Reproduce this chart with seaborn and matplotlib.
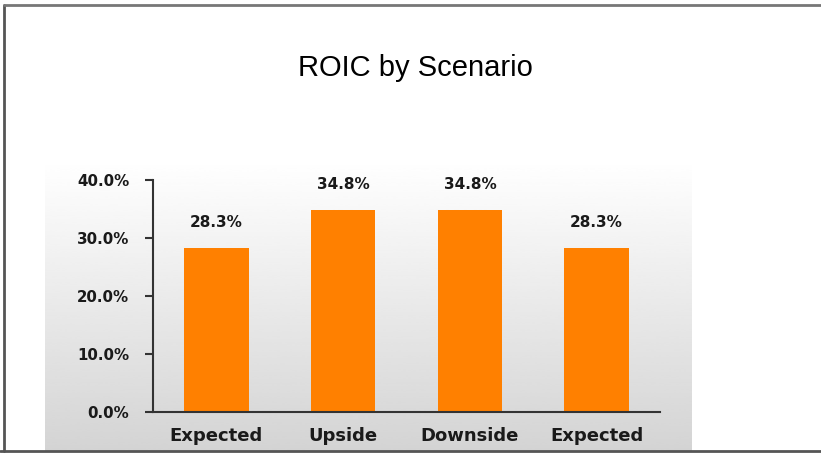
import numpy as np
import pandas as pd
import matplotlib
matplotlib.use("Agg")
import matplotlib.pyplot as plt
import seaborn as sns
from matplotlib.lines import Line2D

categories = ["Expected", "Upside", "Downside", "Expected"]
roic = [0.283, 0.348, 0.348, 0.283]
value_labels = ["28.3%", "34.8%", "34.8%", "28.3%"]
y_ticks = [0.0, 0.1, 0.2, 0.3, 0.4]
y_tick_labels = ["0.0%", "10.0%", "20.0%", "30.0%", "40.0%"]
title = "ROIC by Scenario"

sns.set_theme(style="white")
plt.rcParams["font.family"] = ["Liberation Sans", "DejaVu Sans"]

W, H = 821, 454
fig = plt.figure(figsize=(W / 100, H / 100), dpi=100)
fig.patch.set_facecolor("white")

# gradient background panel
bg = fig.add_axes([0, 0, 1, 1], zorder=0)
bg.set_xlim(0, W)
bg.set_ylim(H, 0)
bg.axis("off")
grad = np.linspace(1.0, 0.83, 256).reshape(-1, 1)
bg.imshow(grad, cmap="gray", vmin=0, vmax=1, aspect="auto",
          extent=[45, 692, 451, 160], interpolation="bicubic")
# outer frame lines
bg.add_line(Line2D([4, 4], [5, 451], color="#555555", lw=2))
bg.add_line(Line2D([4, W], [5, 5], color="#777777", lw=2))
bg.add_line(Line2D([0, W], [451, 451], color="#555555", lw=2))

ax = fig.add_axes([153 / W, 1 - 412 / H, (660 - 153) / W, (412 - 180) / H], zorder=1)
ax.patch.set_alpha(0)

df = pd.DataFrame({"key": [f"s{i}" for i in range(len(categories))], "roic": roic})
sns.barplot(data=df, x="key", y="roic", color="#FF8000", saturation=1,
            width=0.51, linewidth=0, edgecolor="none", ax=ax)
for p, lab in zip(ax.patches, value_labels):
    ax.text(p.get_x() + p.get_width() / 2, p.get_height() + 0.031, lab,
            ha="center", va="bottom", fontsize=11, fontweight="bold",
            family="DejaVu Sans", color="#1a1a1a")

ax.set_ylim(0, 0.4)
ax.set_xlim(-0.5, len(categories) - 0.5)
ax.set_yticks(y_ticks)
ax.set_yticklabels(y_tick_labels, fontsize=10.8, fontweight="bold",
                   family="DejaVu Sans", color="#1a1a1a")
ax.set_xticks(range(len(categories)))
ax.set_xticklabels(categories, fontsize=13, fontweight="bold",
                   family="DejaVu Sans", color="#1a1a1a")
ax.set_xlabel("")
ax.set_ylabel("")
ax.tick_params(axis="y", direction="out", length=6, width=1.5, color="#333333", pad=11, left=True)
ax.tick_params(axis="x", length=0, pad=11)
for s in ["top", "right"]:
    ax.spines[s].set_visible(False)
for s in ["left", "bottom"]:
    ax.spines[s].set_color("#333333")
    ax.spines[s].set_linewidth(1.5)

fig.text(415 / W, 1 - 68 / H, title, ha="center", va="center", fontsize=21, color="black")

fig.savefig("out.png", dpi=100)
